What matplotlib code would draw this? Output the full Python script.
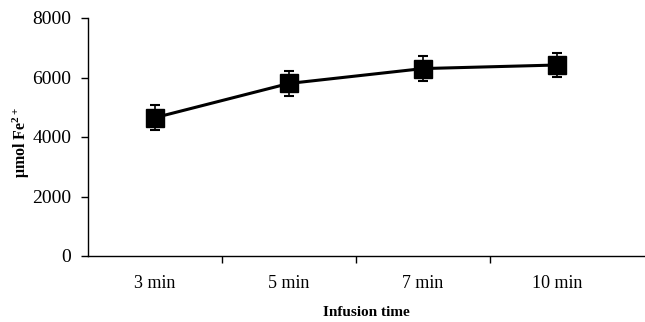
import matplotlib
matplotlib.use('Agg')
import matplotlib.pyplot as plt
import matplotlib.ticker

categories = ['3 min', '5 min', '7 min', '10 min']
values = [4650, 5800, 6300, 6420]
errors = [410, 410, 410, 410]
y_ticks = [0, 2000, 4000, 6000, 8000]

plt.rcParams['font.family'] = ['Liberation Serif', 'DejaVu Serif']
plt.rcParams['mathtext.fontset'] = 'custom'
plt.rcParams['mathtext.rm'] = 'Liberation Serif'
plt.rcParams['mathtext.bf'] = 'Liberation Serif:bold'

fig = plt.figure(figsize=(6.45, 3.22), dpi=100)
ax = fig.add_axes([88 / 645, 1 - 256 / 322, (644 - 88) / 645, (256 - 18) / 322])

x = list(range(len(categories)))
ax.errorbar(x, values, yerr=errors, color='black', lw=2.2, marker='s',
            markersize=12.5, ecolor='black', elinewidth=1.2, capsize=3.6,
            capthick=1.5)

ax.set_ylim(0, 8000)
ax.set_xlim(-0.5, 3.65)
ax.set_yticks(y_ticks)
ax.set_yticklabels([str(t) for t in y_ticks], fontsize=14)

# category labels sit between the boundary ticks
ax.xaxis.set_major_locator(matplotlib.ticker.FixedLocator([0.5, 1.5, 2.5]))
ax.xaxis.set_major_formatter(matplotlib.ticker.NullFormatter())
ax.xaxis.set_minor_locator(matplotlib.ticker.FixedLocator(x))
ax.xaxis.set_minor_formatter(matplotlib.ticker.FixedFormatter(categories))
ax.tick_params(axis='x', which='minor', length=0, labelsize=13, pad=14)
ax.tick_params(axis='x', which='major', length=5, width=1, direction='out')
ax.tick_params(axis='y', length=5, width=1, direction='out', pad=7)

for side in ('top', 'right'):
    ax.spines[side].set_visible(False)
for side in ('left', 'bottom'):
    ax.spines[side].set_linewidth(1)

ax.set_xlabel('Infusion time', fontweight='bold', fontsize=11)
ax.xaxis.set_label_coords(0.5, (256 - 312) / 238, transform=ax.transAxes)
ax.xaxis.label.set_va('center')
ax.set_ylabel('\u03bcmol $\\mathbf{Fe^{2+}}$', fontweight='bold',
              fontsize=11.5)
ax.yaxis.set_label_coords((21 - 88) / 556, (256 - 142) / 238)
ax.yaxis.label.set_va('center')

fig.savefig('out.png', dpi=100)
